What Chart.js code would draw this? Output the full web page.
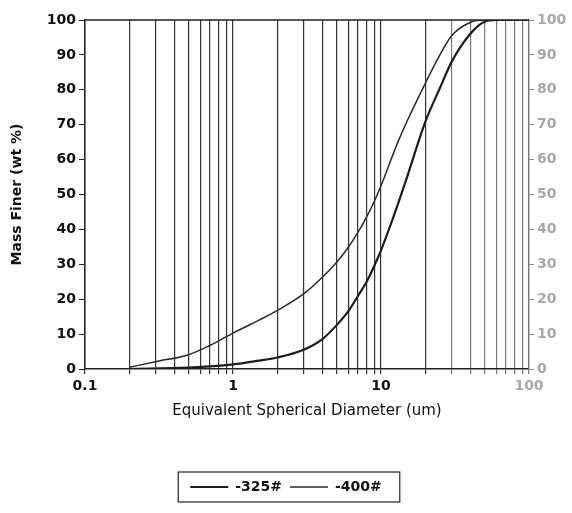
<!DOCTYPE html>
<html><head><meta charset="utf-8">
<style>html,body{margin:0;padding:0;background:#fff;}#wrap{width:572px;height:513px;position:relative;}</style>
<script src="https://cdn.jsdelivr.net/npm/chart.js@4/dist/chart.umd.min.js"></script>
</head><body><div id="wrap"><canvas id="c" width="572" height="513"></canvas></div>
<script>
// ---- data ----
const seriesNames = ['-325#', '-400#'];
const sizes325 = [0.2, 0.5, 1, 1.5, 2, 3, 4, 5, 6, 7, 8, 9, 10, 12, 15, 20, 25, 30, 40, 50, 60, 100];
const finer325 = [0, 0.4, 1.3, 2.4, 3.3, 5.5, 8.5, 12.5, 16.5, 21, 25, 29.5, 34, 43, 55, 71, 80.5, 88, 96, 99.5, 100, 100];
const sizes400 = [0.2, 0.3, 0.5, 0.7, 1, 1.5, 2, 3, 4, 5, 6, 7, 8, 9, 10, 13, 15, 20, 25, 30, 40, 50, 100];
const finer400 = [0.5, 2.1, 4.1, 6.8, 10.3, 14, 16.8, 21.5, 26.2, 30.5, 34.8, 39.2, 43.6, 48, 52.5, 65, 71, 82, 90, 95.5, 99.3, 100, 100];
const gridValues = [0.1,0.2,0.3,0.4,0.5,0.6,0.7,0.8,0.9,1,2,3,4,5,6,7,8,9,10,20,30,40,50,60,70,80,90,100];
const xLabelValues = [0.1, 1, 10, 100];
const xLabelTexts = ['0.1', '1', '10', '100'];
const xTitle = 'Equivalent Spherical Diameter (um)';
const yTitle = 'Mass Finer (wt %)';

const FONT = 'DejaVu Sans';
Chart.defaults.font.family = FONT;
Chart.defaults.color = '#111';

const framePlugin = {
  id: 'frame',
  afterDraw(chart) {
    const {ctx, chartArea: a} = chart;
    ctx.save();
    ctx.strokeStyle = '#222';
    ctx.lineWidth = 1.5;
    ctx.beginPath();
    ctx.moveTo(a.left, a.top);
    ctx.lineTo(a.right, a.top);
    ctx.stroke();
    const lg = chart.legend;
    if (lg && lg.legendHitBoxes && lg.legendHitBoxes.length) {
      const hb = lg.legendHitBoxes;
      const x0 = Math.min(...hb.map(h => h.left));
      const x1 = Math.max(...hb.map(h => h.left + h.width));
      const y0 = Math.min(...hb.map(h => h.top));
      const y1 = Math.max(...hb.map(h => h.top + h.height));
      ctx.lineWidth = 1.3;
      ctx.strokeStyle = '#333';
      ctx.strokeRect(x0 - 12, y0 - 8, (x1 - x0) + 30, (y1 - y0) + 16);
    }
    ctx.restore();
  }
};

const toPts = (xs, ys) => xs.map((x, i) => ({x, y: ys[i]}));

new Chart(document.getElementById('c'), {
  type: 'line',
  data: {
    datasets: [
      { label: seriesNames[0], data: toPts(sizes325, finer325), borderColor: '#1c1c1c', borderWidth: 2.2,
        pointRadius: 0, cubicInterpolationMode: 'monotone', fill: false, xAxisID: 'x', yAxisID: 'y' },
      { label: seriesNames[1], data: toPts(sizes400, finer400), borderColor: '#2a2a2a', borderWidth: 1.5,
        pointRadius: 0, cubicInterpolationMode: 'monotone', fill: false, xAxisID: 'x', yAxisID: 'y' }
    ]
  },
  options: {
    responsive: false,
    animation: false,
    layout: { padding: { top: 20, left: 0, right: 0, bottom: 9 } },
    plugins: {
      tooltip: { enabled: false },
      legend: {
        position: 'bottom',
        labels: {
          usePointStyle: true, pointStyle: 'line', pointStyleWidth: 38,
          font: { size: 14, weight: 'bold' }, padding: 8, color: '#111'
        }
      }
    },
    scales: {
      x: {
        type: 'logarithmic', position: 'bottom', min: 0.1, max: 100,
        afterBuildTicks: s => { s.ticks = gridValues.map(v => ({ value: v })); },
        afterFit: s => { s.height = 103; },
        ticks: {
          autoSkip: false, maxRotation: 0, padding: 4, font: { size: 14, weight: 'bold' },
          color: c => (c.tick && c.tick.value === 100 ? '#aaa' : '#111'),
          callback: v => { const i = xLabelValues.indexOf(v); return i >= 0 ? xLabelTexts[i] : ''; }
        },
        grid: {
          color: c => (c.tick && c.tick.value > 25 ? '#7a7a7a' : '#333'),
          lineWidth: 1.2, drawTicks: true, tickLength: 5
        },
        border: { display: true, color: '#222', width: 1.5 },
        title: { display: true, text: xTitle, font: { size: 15 }, color: '#111', padding: { top: 4, bottom: 52 } }
      },
      y: {
        type: 'linear', position: 'left', min: 0, max: 100,
        afterFit: s => { s.width = 85; },
        ticks: { stepSize: 10, padding: 3, font: { size: 14, weight: 'bold' }, color: '#111' },
        grid: { drawOnChartArea: false, drawTicks: true, tickLength: 6, color: '#222' },
        border: { display: true, color: '#222', width: 1.5 },
        title: { display: true, text: yTitle, font: { size: 14, weight: 'bold' }, color: '#111', padding: { top: 9, bottom: 0 } }
      },
      y2: {
        type: 'linear', position: 'right', min: 0, max: 100,
        afterFit: s => { s.width = 43; },
        ticks: { stepSize: 10, padding: 3, font: { size: 14, weight: 'bold' }, color: '#a8a8a8' },
        grid: { drawOnChartArea: false, drawTicks: true, tickLength: 5, color: '#888' },
        border: { display: true, color: '#777', width: 1.3 }
      }
    }
  },
  plugins: [framePlugin]
});
</script>
</body></html>
